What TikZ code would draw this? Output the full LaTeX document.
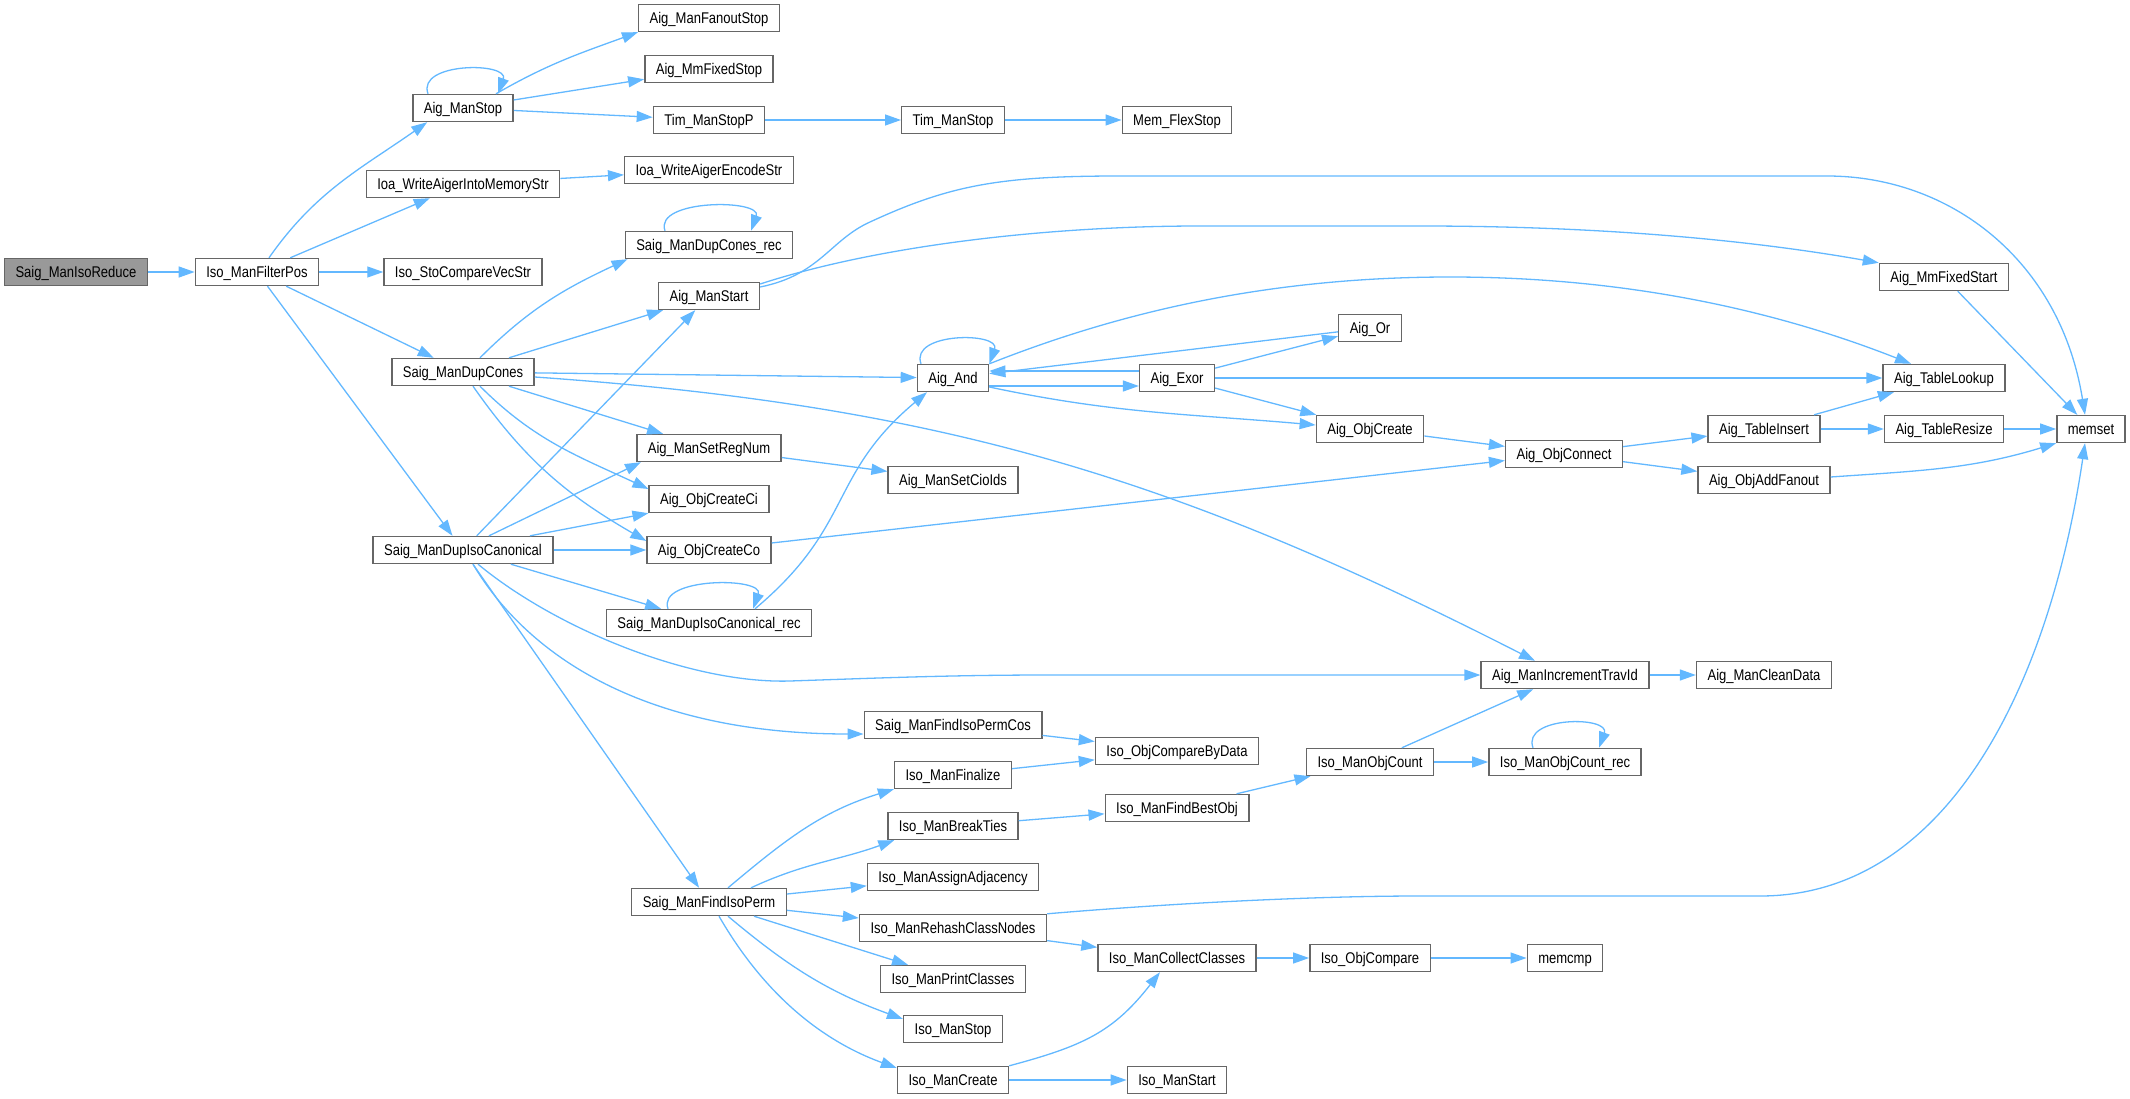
\documentclass[tikz,border=0pt]{standalone}
\usepackage{fontspec}
\setmainfont[FakeStretch=0.84]{Liberation Sans}
\usetikzlibrary{arrows.meta}
\definecolor{edgeblue}{HTML}{63B8FF}
\definecolor{boxline}{HTML}{666666}
\definecolor{rootfill}{HTML}{999999}

\begin{document}
\begin{tikzpicture}[x=1pt,y=-1pt,
    fn/.style={draw=boxline, line width=1.4pt, fill=white, minimum height=27pt,
      inner xsep=11pt, inner ysep=0pt, text height=11pt, text depth=0pt,
      font=\fontsize{15.5}{18}\selectfont},
    root/.style={fn, fill=rootfill},
    call/.style={draw=edgeblue, line width=1.3pt, -{Triangle[length=16pt,width=11pt]}},
    selfedge/.style={out=110, in=70, distance=34pt}]

        \useasboundingbox (0,0) rectangle (2130,1099);

        \node[root] (red) at (76,272) {Saig\_ManIsoReduce};
        \node[fn] (fp) at (257,272) {Iso\_ManFilterPos};

        \node[fn] (stop) at (463,108) {Aig\_ManStop};
        \node[fn] (ioaw) at (463,184) {Ioa\_WriteAigerIntoMemoryStr};
        \node[fn] (sto) at (463,272) {Iso\_StoCompareVecStr};
        \node[fn] (dc) at (463,372) {Saig\_ManDupCones};
        \node[fn] (dic) at (463,550) {Saig\_ManDupIsoCanonical};

        \node[fn] (fos) at (709,18) {Aig\_ManFanoutStop};
        \node[fn] (mfs) at (709,69) {Aig\_MmFixedStop};
        \node[fn] (tsp) at (709,120) {Tim\_ManStopP};
        \node[fn] (enc) at (709,170) {Ioa\_WriteAigerEncodeStr};
        \node[fn] (dcr) at (709,245) {Saig\_ManDupCones\_rec};
        \node[fn] (mst) at (709,296) {Aig\_ManStart};
        \node[fn] (srn) at (709,448) {Aig\_ManSetRegNum};
        \node[fn] (oci) at (709,499) {Aig\_ObjCreateCi};
        \node[fn] (oco) at (709,550) {Aig\_ObjCreateCo};
        \node[fn] (dicr) at (709,623) {Saig\_ManDupIsoCanonical\_rec};
        \node[fn] (fip) at (709,902) {Saig\_ManFindIsoPerm};

        \node[fn] (tms) at (953,120) {Tim\_ManStop};
        \node[fn] (andn) at (953,378) {Aig\_And};
        \node[fn] (cio) at (953,480) {Aig\_ManSetCioIds};
        \node[fn] (pcos) at (953,725) {Saig\_ManFindIsoPermCos};
        \node[fn] (fin) at (953,775) {Iso\_ManFinalize};
        \node[fn] (brk) at (953,826) {Iso\_ManBreakTies};
        \node[fn] (adj) at (953,877) {Iso\_ManAssignAdjacency};
        \node[fn] (rcn) at (953,928) {Iso\_ManRehashClassNodes};
        \node[fn] (prc) at (953,979) {Iso\_ManPrintClasses};
        \node[fn] (ist) at (953,1029) {Iso\_ManStop};
        \node[fn] (icr) at (953,1080) {Iso\_ManCreate};

        \node[fn] (flex) at (1177,120) {Mem\_FlexStop};
        \node[fn] (exor) at (1177,378) {Aig\_Exor};
        \node[fn] (cbd) at (1177,751) {Iso\_ObjCompareByData};
        \node[fn] (fbo) at (1177,808) {Iso\_ManFindBestObj};
        \node[fn] (ccl) at (1177,958) {Iso\_ManCollectClasses};
        \node[fn] (istart) at (1177,1080) {Iso\_ManStart};

        \node[fn] (orn) at (1370,328) {Aig\_Or};
        \node[fn] (ocr) at (1370,429) {Aig\_ObjCreate};
        \node[fn] (oc) at (1370,762) {Iso\_ManObjCount};
        \node[fn] (ocmp) at (1370,958) {Iso\_ObjCompare};

        \node[fn] (ocn) at (1564,454) {Aig\_ObjConnect};
        \node[fn] (itid) at (1565,675) {Aig\_ManIncrementTravId};
        \node[fn] (ocrec) at (1565,762) {Iso\_ManObjCount\_rec};
        \node[fn] (mcmp) at (1565,958) {memcmp};

        \node[fn] (tin) at (1764,429) {Aig\_TableInsert};
        \node[fn] (oaf) at (1764,480) {Aig\_ObjAddFanout};
        \node[fn] (clean) at (1764,675) {Aig\_ManCleanData};

        \node[fn] (mfst) at (1944,277) {Aig\_MmFixedStart};
        \node[fn] (tlk) at (1944,378) {Aig\_TableLookup};
        \node[fn] (trs) at (1944,429) {Aig\_TableResize};
        \node[fn] (mset) at (2091,429) {memset};

        % from the root
        \draw[call] (red) -- (fp);
        \draw[call] ([xshift=12pt]fp.north) to[out=55,in=215] ([xshift=15pt]stop.south west);
        \draw[call] (fp) -- (ioaw);
        \draw[call] (fp) -- (sto);
        \draw[call] (fp) -- (dc);
        \draw[call] (fp) -- (dic);

        \draw[call] ([xshift=-35pt]stop.north) to[selfedge] ([xshift=35pt]stop.north);
        \draw[call] ([xshift=33pt]stop.north) to[out=30,in=200] (fos.south west);
        \draw[call] (stop) -- (mfs);
        \draw[call] (stop) -- (tsp);
        \draw[call] (tsp) -- (tms);
        \draw[call] (tms) -- (flex);
        \draw[call] (ioaw) -- (enc);

        % Saig_ManDupCones
        \draw[call] ([xshift=17pt]dc.north) to[out=45,in=205] ([xshift=3pt]dcr.south west);
        \draw[call] ([xshift=-44pt]dcr.north) to[selfedge] ([xshift=42pt]dcr.north);
        \draw[call] (dc) -- (mst);
        \draw[call] (dc) -- (andn);
        \draw[call] ([yshift=-5pt]dc.east) to[out=-4,in=153] ([xshift=-30pt]itid.north);
        \draw[call] (dc) -- (srn);
        \draw[call] ([xshift=17pt]dc.south) to[out=-45,in=155] ([yshift=10pt]oci.west);
        \draw[call] ([xshift=10pt]dc.south) to[out=-55,in=150] ([yshift=9pt]oco.west);

        % Saig_ManDupIsoCanonical
        \draw[call] (dic) -- (mst);
        \draw[call] ([xshift=26pt]dic.north) -- ([xshift=-68pt]srn.south);
        \draw[call] ([xshift=67pt]dic.north) -- (oci.south west);
        \draw[call] (dic) -- (oco);
        \draw[call] (dic) -- (dicr);
        \draw[call] ([xshift=-41pt]dicr.north) to[selfedge] ([xshift=44pt]dicr.north);
        \draw[call] ([xshift=46pt]dicr.north) to[out=40,in=220,looseness=1.2] ([xshift=-26pt]andn.south);
        \draw[call] ([xshift=15pt]dic.south) .. controls (555,628) and (690,684) .. (790,681)
            .. controls (880,678) and (950,675) .. (1050,675) -- (itid.west);
        \draw[call] ([xshift=10pt]dic.south) .. controls (530,660) and (650,734) .. ([yshift=-9pt]pcos.west);
        \draw[call] (dic) -- (fip);

        % Aig_ManStart
        \draw[call] ([yshift=9pt]mst.east) .. controls (820,275) and (830,240) .. (870,222)
            .. controls (950,185) and (1000,176) .. (1120,176) -- (1827,176)
            .. controls (1950,176) and (2060,260) .. ([xshift=-6pt]mset.north);
        \draw[call] ([yshift=12pt]mst.east) .. controls (880,245) and (1050,226) .. (1200,226) -- (1420,226)
            .. controls (1600,226) and (1750,240) .. (mfst.north west);
        \draw[call] (mfst) -- (mset);

        % Aig_And and friends
        \draw[call] ([xshift=-32pt]andn.north) to[selfedge] (andn.north east);
        \draw[call] (andn.north east) .. controls (1100,320) and (1250,277) .. (1450,277)
            .. controls (1650,277) and (1800,320) .. ([xshift=-33pt]tlk.north);
        \draw[call] ([yshift=-8pt]andn.east) -- ([yshift=-8pt]exor.west);
        \draw[call] ([yshift=-9pt]andn.east) to[out=-12,in=175] ([yshift=4pt]ocr.west);
        \draw[call] ([yshift=7pt]exor.west) -- ([yshift=7pt]andn.east);
        \draw[call] (orn) -- (andn);
        \draw[call] (exor) -- (orn);
        \draw[call] (exor) -- (tlk);
        \draw[call] (exor) -- (ocr);
        \draw[call] (ocr) -- (ocn);
        \draw[call] (oco) -- (ocn);
        \draw[call] (ocn) -- (tin);
        \draw[call] (ocn) -- (oaf);
        \draw[call] (tin) -- (tlk);
        \draw[call] (tin) -- (trs);
        \draw[call] (trs) -- (mset);
        \draw[call] ([yshift=3pt]oaf.east) to[out=4,in=197] (mset.south west);
        \draw[call] (srn) -- (cio);

        % Saig_ManFindIsoPerm
        \draw[call] ([xshift=19pt]fip.north) to[out=40,in=197] (fin.south west);
        \draw[call] ([xshift=42pt]fip.north) to[out=25,in=200] ([xshift=7pt]brk.south west);
        \draw[call] (fip) -- (adj);
        \draw[call] (fip) -- (rcn);
        \draw[call] (fip) -- (prc);
        \draw[call] ([xshift=19pt]fip.south) to[out=-40,in=160] ([yshift=10pt]ist.west);
        \draw[call] ([xshift=10pt]fip.south) to[out=-60,in=160,out distance=90pt,in distance=80pt] ([yshift=12pt]icr.west);

        \draw[call] (pcos) -- (cbd);
        \draw[call] (fin) -- (cbd);
        \draw[call] (brk) -- (fbo);
        \draw[call] (fbo) -- (oc);
        \draw[call] (oc) -- (itid);
        \draw[call] (oc) -- (ocrec);
        \draw[call] ([xshift=-32pt]ocrec.north) to[selfedge] ([xshift=34pt]ocrec.north);
        \draw[call] (itid) -- (clean);

        \draw[call] (rcn.north east) .. controls (1150,905) and (1300,896) .. (1420,896) -- (1760,896)
            .. controls (1950,896) and (2050,680) .. ([xshift=-6pt]mset.south);
        \draw[call] (rcn) -- (ccl);
        \draw[call] (ccl) -- (ocmp);
        \draw[call] (ocmp) -- (mcmp);
        \draw[call] (icr.north east) to[out=15,in=232,looseness=1.1] ([xshift=-17pt]ccl.south);
        \draw[call] (icr) -- (istart);
\end{tikzpicture}
\end{document}
